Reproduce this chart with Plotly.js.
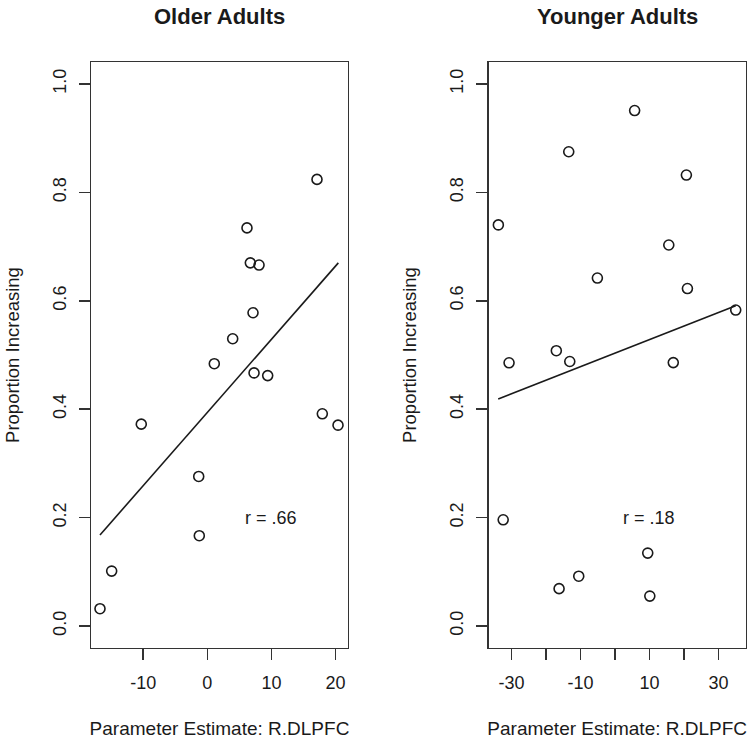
<!DOCTYPE html>
<html><head><meta charset="utf-8">
<script src="https://cdn.plot.ly/plotly-3.0.1.min.js"></script>
<style>html,body{margin:0;padding:0;background:#fff}</style>
</head><body>
<div id="chart" style="width:750px;height:739px"></div>
<script>
// Older adults: parameter estimate (x) vs proportion increasing (y)
const olderX = [17.11, 6.19, 6.71, 8.07, 7.13, 3.96, 1.09, 7.29, 9.42, -10.3, 17.94, 20.39, -1.34, -1.25, -14.92, -16.74];
const olderY = [0.824, 0.7345, 0.670, 0.666, 0.578, 0.530, 0.484, 0.467, 0.462, 0.3725, 0.3916, 0.3706, 0.276, 0.1667, 0.1014, 0.032];
const olderFitX = [-16.74, 20.44];
const olderFitY = [0.168, 0.670];
const olderLabel = "r = .66";

// Younger adults
const youngerX = [-33.8, 5.7, -13.4, 20.7, 15.6, -5.1, 21.0, 35.0, -17.0, -30.7, -13.1, 16.9, -32.4, 9.5, -10.5, -16.2, 10.1];
const youngerY = [0.740, 0.951, 0.875, 0.832, 0.703, 0.642, 0.6226, 0.583, 0.508, 0.4856, 0.488, 0.486, 0.196, 0.1346, 0.092, 0.069, 0.0553];
const youngerFitX = [-33.84, 35.0];
const youngerFitY = [0.419, 0.591];
const youngerLabel = "r = .18";

const labelPos = [10, 0.2];
const titles = ["Older Adults", "Younger Adults"];
const xTitle = "Parameter Estimate: R.DLPFC";
const yTitle = "Proportion Increasing";
const yTicks = [0, 0.2, 0.4, 0.6, 0.8, 1.0];
const olderXTicks = [-10, 0, 10, 20];
const olderXTickText = ["-10", "0", "10", "20"];
const youngerXTicks = [-30, -20, -10, 0, 10, 20, 30];
const youngerXTickText = ["-30", "", "-10", "", "10", "", "30"];

const FONT = "Liberation Sans, Arial, Helvetica, sans-serif";
const INK = "#1a1a1a";
const LINE = "#333333";

const pointStyle = {symbol: "circle-open", size: 10, color: INK, line: {width: 1.6, color: INK}};
const fitStyle = {color: INK, width: 1.6};

const traces = [
  {x: olderX, y: olderY, type: "scatter", mode: "markers", marker: pointStyle, xaxis: "x", yaxis: "y", hoverinfo: "x+y"},
  {x: olderFitX, y: olderFitY, type: "scatter", mode: "lines", line: fitStyle, xaxis: "x", yaxis: "y"},
  {x: youngerX, y: youngerY, type: "scatter", mode: "markers", marker: pointStyle, xaxis: "x2", yaxis: "y2", hoverinfo: "x+y"},
  {x: youngerFitX, y: youngerFitY, type: "scatter", mode: "lines", line: fitStyle, xaxis: "x2", yaxis: "y2"}
];

const baseAxis = {
  showline: true, mirror: true, linecolor: LINE, linewidth: 1.5,
  showgrid: false, zeroline: false,
  ticks: "outside", ticklen: 11, tickwidth: 1.5, tickcolor: LINE,
  tickfont: {family: FONT, size: 18, color: INK},
  automargin: false
};

function xAxis(domain, range, tickvals, ticktext, anchor) {
  return Object.assign({}, baseAxis, {
    domain: domain, range: range, anchor: anchor,
    tickmode: "array", tickvals: tickvals, ticktext: ticktext,
    ticklabelstandoff: 7,
    title: {text: xTitle, font: {family: FONT, size: 19, color: INK}, standoff: 30}
  });
}
function yAxis(anchor) {
  return Object.assign({}, baseAxis, {
    domain: [0.1235, 0.9157], range: [-0.04, 1.04], anchor: anchor,
    tickmode: "array", tickvals: yTicks, tickformat: ".1f", tickangle: -90,
    ticklabelstandoff: 6,
    title: {text: yTitle, font: {family: FONT, size: 18.5, color: INK}, standoff: 25}
  });
}

const layout = {
  width: 750, height: 739,
  margin: {l: 0, r: 0, t: 0, b: 0},
  paper_bgcolor: "#ffffff", plot_bgcolor: "#ffffff",
  showlegend: false,
  font: {family: FONT, color: INK},
  xaxis: xAxis([0.1217, 0.4636], [-18.1, 21.9], olderXTicks, olderXTickText, "y"),
  yaxis: yAxis("x"),
  xaxis2: xAxis([0.6516, 0.9943], [-36.6, 37.9], youngerXTicks, youngerXTickText, "y2"),
  yaxis2: yAxis("x2"),
  annotations: [
    {xref: "paper", yref: "paper", x: (0.1217 + 0.4636) / 2, y: 1 - 17 / 739, xanchor: "center", yanchor: "middle",
     text: "<b>" + titles[0] + "</b>", showarrow: false, font: {family: FONT, size: 22, color: INK}},
    {xref: "paper", yref: "paper", x: (0.6516 + 0.9943) / 2, y: 1 - 17 / 739, xanchor: "center", yanchor: "middle",
     text: "<b>" + titles[1] + "</b>", showarrow: false, font: {family: FONT, size: 22, color: INK}},
    {xref: "x", yref: "y", x: labelPos[0], y: labelPos[1], text: olderLabel, showarrow: false,
     font: {family: FONT, size: 18, color: INK}},
    {xref: "x2", yref: "y2", x: labelPos[0], y: labelPos[1], text: youngerLabel, showarrow: false,
     font: {family: FONT, size: 18, color: INK}}
  ]
};

Plotly.newPlot("chart", traces, layout, {staticPlot: true, displayModeBar: false});
</script>
</body></html>
